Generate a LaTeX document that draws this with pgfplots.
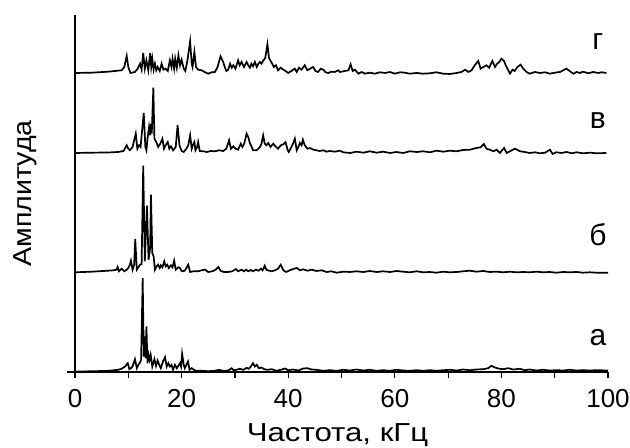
\documentclass[border=0pt]{standalone}
\usepackage{fontspec}
\setmainfont{Liberation Sans}
\usepackage{pgfplots}
\pgfplotsset{compat=1.18}

\newcommand{\lblfont}{\fontsize{13}{15}\selectfont}
\newcommand{\curvefont}{\fontsize{15}{17}\selectfont}

\begin{document}
\begin{tikzpicture}
\path[use as bounding box] (-33.5pt,-38pt) rectangle (281.5pt,186pt);
\begin{axis}[
    at={(0,0)}, anchor=south west,
    scale only axis,
    width=270.5pt, height=178.5pt,
    xmin=-1.5, xmax=100,
    ymin=0, ymax=357,
    axis x line=bottom,
    axis y line=none,
    axis line style={-, line width=0.6pt},
    xtick={0,20,...,100},
    minor xtick={10,30,...,90},
    tick align=outside,
    major tick length=3pt,
    minor tick length=3pt,
    tick style={line width=0.6pt, black},
    ytick=\empty,
    tick label style={font=\lblfont},
    xticklabel style={yshift=-2pt},
    /pgf/number format/assume math mode=true,
    xlabel={\scalebox{1.2}[1]{Частота, кГц}},
    xlabel style={font=\lblfont, at={(axis description cs:0.5,0)}, anchor=center, yshift=-31.5pt},
    clip=false,
]
\draw[line width=0.6pt] (axis cs:0,0) -- (axis cs:0,357);

% г
\addplot[black, line width=0.85pt] coordinates {
(0,299) (3.1,299.3) (6.25,300.3) (7.5,301) (8.75,301.7) (9.25,305) (9.7,316) (10,305)
(10.4,299) (11.25,300) (11.75,303.3) (12.2,308.3) (12.5,302.3) (12.8,319) (13.1,303.3)
(13.4,311.7) (13.75,301.7) (14.1,319) (14.3,305) (14.5,313.3) (14.75,302.3) (15,308.3)
(15.25,301.7) (15.5,305) (15.9,301) (16.25,308.3) (16.6,302.3) (17,303.3) (17.4,301)
(17.8,311.7) (18.1,305) (18.3,313.3) (18.6,303.3) (18.8,313.3) (19.1,304.3) (19.4,316.7)
(19.7,306.7) (20,312.3) (20.4,303.3) (20.7,301) (21.1,311.7) (21.6,330.7) (21.9,308.3)
(22.05,305) (22.4,320) (22.7,305) (23.1,302.3) (23.75,301.7) (24.4,299.7) (25,298.3)
(25.6,299.7) (26.25,300) (26.75,305) (27.3,315.7) (27.8,310) (28.1,305) (28.4,301)
(28.75,302.3) (29.1,308.3) (29.4,304.3) (29.7,306.7) (30.1,303.3) (30.6,311.7) (30.9,306.7)
(31.25,310) (31.7,305) (32.2,310) (32.5,306.7) (32.8,304.3) (33.1,308.3) (33.4,305.7)
(33.75,310) (34.1,305) (34.4,308.3) (34.7,310) (35,308.3) (35.3,311.3) (35.7,314)
(36.1,327.7) (36.4,314) (36.7,311) (37,308.3) (37.3,305) (37.7,306.7) (38.1,301.7)
(38.6,304.3) (39.1,302.3) (39.5,301) (40,299) (40.6,301) (41.25,303.3) (41.6,300)
(42,304.3) (42.5,302.3) (43.1,306.7) (43.6,301.7) (44.1,303.3) (44.7,305) (45.1,301)
(45.6,300) (46.1,303.3) (46.6,302.3) (47,299.7) (47.5,299) (48.1,300.3) (48.75,300)
(49.4,301.7) (49.7,300) (50.65,301) (51.3,301.7) (51.7,307.7) (52.1,301) (52.5,302.3)
(53.2,298.3) (53.8,300) (54.4,298.3) (55.3,299.3) (56.3,298.3) (57.2,299.7) (58.2,299)
(59.1,300) (60,298.3) (61,299.7) (61.9,299.3) (62.8,298.3) (64.1,299) (65.3,298.3)
(66.6,298.7) (67.8,299.7) (69.1,298.3) (70.3,298) (71.6,299) (72.5,300) (73.2,302.3)
(73.8,300) (74.4,301.7) (75.0,306.7) (75.65,311) (76.1,303.3) (76.6,305) (77.2,306.7)
(77.7,304.3) (78.3,311) (78.8,305) (79.2,308.3) (79.6,310) (80.0,313.3) (80.5,311)
(80.8,306.7) (81.3,301.7) (81.6,298.3) (82.1,302.3) (82.5,301) (83,305) (83.6,307.3)
(84.1,303.3) (84.7,300) (85.3,298.3) (86.3,300) (87.2,299) (88.2,299.7) (89.1,298.3)
(90.0,299.3) (91,300) (91.6,301.7) (92.2,303.3) (92.8,301) (93.5,298.3) (94.1,300)
(94.7,299) (95.3,300.3) (96.3,298.7) (97.2,300) (98.2,299) (98.8,299.7) (99.7,299)
};

% в
\addplot[black, line width=0.85pt] coordinates {
(0,219) (3.1,219.3) (6.25,219.5) (8.1,220) (9.1,221) (9.7,226.7) (10,223.3) (10.3,221.7)
(10.8,225) (11.4,238.3) (11.7,223.3) (12,226.7) (12.3,225) (12.9,259) (13.2,225)
(13.4,221.7) (13.6,233.3) (13.9,245) (14.1,236.7) (14.25,248.3) (14.4,238.3) (14.7,284.3)
(14.9,233.3) (15.25,230) (15.6,225) (16,228.3) (16.4,233.3) (16.7,223.3) (17,226.7)
(17.4,230) (17.7,223.3) (18,225.7) (18.4,221.7) (18.9,225) (19.25,246.7) (19.6,226.7)
(20,221) (20.4,220) (20.9,223.3) (21.25,226.7) (21.6,236.7) (21.9,223.3) (22.1,226.7)
(22.4,230) (22.6,221.7) (22.9,225) (23.1,230) (23.4,221) (24.1,220.7) (24.7,220)
(25.5,221) (26.25,220.7) (27,221.7) (27.8,221) (28.4,223.3) (28.9,231.7) (29.25,223.3)
(29.7,225.7) (30.1,223.3) (30.6,222.3) (31.1,228.3) (31.4,225) (31.75,228.3) (32.2,238.3)
(32.5,235) (32.8,229) (33.1,225.7) (33.4,221.7) (34.1,221.7) (34.7,225) (35,228.3)
(35.3,236.7) (35.6,228.3) (35.9,226.7) (36.25,229) (36.7,225) (37.2,228.3) (37.6,225.7)
(38.1,223.3) (38.6,226.7) (39.1,227.7) (39.5,230) (39.9,221.7) (40.1,220) (40.6,225)
(40.9,228.3) (41.25,233.3) (41.6,221.7) (41.9,225) (42.2,229) (42.5,226.7) (42.75,232.3)
(43.1,226.7) (43.6,223.3) (44.1,224) (44.7,222.3) (45.3,221.7) (45.9,221) (46.6,221.7)
(47.2,220.3) (47.8,221) (48.75,220.3) (49.7,221.3) (50.3,219.7) (51.6,219) (52.8,220.3)
(54.1,219.3) (55.3,220.7) (56.6,219.3) (57.8,220.3) (59.1,219) (60.3,220) (61.6,219)
(62.8,220.7) (64.1,220) (65.3,220.7) (66.6,219.7) (67.8,221.3) (69.1,220.3) (70.3,221.3)
(71.6,220.7) (72.8,222) (74.1,222.3) (75.3,224) (76.1,224.7) (76.7,228) (77.2,223.3)
(77.8,222.3) (78.5,220.7) (79.1,222.3) (79.7,219) (80.5,224) (81,219) (81.6,220.7)
(82.5,223.3) (83.5,220.7) (84.4,220) (85.3,219) (86.3,219.7) (87.2,218.7) (88.2,219.3)
(89.1,222.3) (89.6,218) (90.3,219.7) (91.3,219) (92.2,220) (93.2,218.7) (94.1,219.7)
(95.3,218.7) (96.6,219.3) (97.8,218.7) (99.7,219)
};

% б
\addplot[black, line width=0.85pt] coordinates {
(0,99.7) (3.1,100.3) (6.25,101.3) (7.2,101.7) (7.8,102.3) (8,105) (8.25,100.7) (8.75,103.3)
(9.25,100.7) (9.7,102.3) (10,104) (10.3,107.3) (10.5,111.3) (10.8,102.3) (11.1,107.3)
(11.3,133) (11.6,102.3) (11.9,104.7) (12.2,107.3) (12.5,108) (12.8,206.3) (13.1,110.7)
(13.5,166.3) (13.8,112.3) (14.1,124) (14.25,177.3) (14.5,119) (14.75,115.7) (15,102.3)
(15.3,105.7) (15.6,107.3) (15.9,104) (16.1,106.7) (16.4,104.7) (16.75,110.7) (17,105.7)
(17.3,107.3) (17.6,104) (18,106.7) (18.3,104.7) (18.6,111.3) (18.9,102.3) (19.4,104.7)
(19.7,104) (20,100.7) (20.6,101.3) (21.25,107.3) (21.6,100) (22.2,100.7) (23.1,100.7)
(23.75,101.7) (24.4,102.3) (25,100) (25.75,100.7) (26.4,102.3) (26.9,105) (27.3,101.3)
(27.9,100) (28.75,100) (29.5,100.7) (30.2,103) (30.6,100.7) (31.25,102.3) (31.7,100.7)
(32.1,102.3) (32.5,100.7) (33,102) (33.4,100.7) (33.9,102.3) (34.4,101.3) (34.9,103.3)
(35.2,101.7) (35.6,106.3) (35.9,102.3) (36.4,101.3) (36.9,100.7) (37.5,101.7) (38.1,103.3)
(38.6,107.3) (39.1,101.7) (39.6,100) (40.3,101.7) (41.1,103.3) (41.6,104) (42.2,101.7)
(42.8,102.7) (43.6,101.3) (44.4,102.3) (45.3,101) (46.3,101.7) (47.2,100) (48.1,100.7)
(49.1,99.3) (50.3,100.3) (51.6,100) (52.8,100.7) (54.1,100) (55.3,101) (56.6,100)
(57.8,100.7) (59.1,100) (60.3,101) (61.6,100.3) (62.8,99.7) (64.1,100.7) (65.3,99.7)
(66.6,100) (67.8,99.3) (69.1,100.3) (70.3,99.7) (71.6,100) (72.8,100.7) (74.1,101.3)
(75.3,100.3) (76.6,101) (77.8,100) (79.1,100.3) (80.3,99.7) (81.6,100.3) (82.8,99.7)
(84.1,100) (85.3,99.7) (86.6,100.3) (87.8,99.7) (89.1,100) (90.3,99.3) (91.6,100)
(92.8,99.7) (94.1,100) (95.3,99.3) (96.6,99.7) (97.8,99.3) (100,99.3)
};

% а
\addplot[black, line width=0.85pt] coordinates {
(0,0.5) (3.1,0.7) (6.25,1.2) (8.1,2.2) (8.75,3.2) (9.4,5.5) (9.9,8.8) (10.2,2.8) (10.5,3.8)
(10.8,5.5) (11.25,12.8) (11.6,3.8) (11.9,7.2) (12.2,9.5) (12.4,12.2) (12.7,93.8) (12.9,15.5)
(13.1,35.5) (13.25,13.8) (13.4,45.5) (13.6,8.8) (13.8,17.2) (14,12.2) (14.2,17.2) (14.5,5.5)
(14.9,12.8) (15.2,6.2) (15.5,11.5) (15.8,7.2) (16.1,3.8) (16.5,10.5) (16.9,14.8) (17.2,5.5)
(17.5,8.8) (17.8,5.5) (18.1,7.2) (18.4,2.2) (18.75,7.2) (19.1,3.8) (19.4,6.2) (19.7,8.8)
(19.9,5.5) (20.1,18.2) (20.4,7.2) (20.6,3.8) (20.9,7.2) (21.2,10.5) (21.5,2.2) (21.9,3.8)
(22.3,2.2) (22.8,1.2) (23.75,1.2) (25,0.8) (26.25,1.2) (27,2.2) (27.8,1.2) (28.75,1.5)
(29.4,3.8) (29.75,1.8) (30.3,2.2) (30.9,3.2) (31.6,2.2) (32.2,4.2) (32.6,3.2) (33,5.5)
(33.4,8.8) (33.75,5.5) (34.1,7.2) (34.5,3.8) (35,4.5) (35.5,2.8) (36.1,2.2) (36.9,2.8)
(37.8,1.2) (38.8,2.5) (39.4,3.5) (40.0,1.8) (40.95,2.5) (41.9,1.5) (42.8,3.5) (43.6,3.8)
(44.4,2.5) (45.3,2.2) (46.6,1.2) (47.8,1.8) (49.1,1.2) (50.3,2.2) (51.6,1.5) (52.8,2.5)
(54.1,1.5) (55.3,2.2) (56.6,1.2) (57.8,1.8) (59.1,1.2) (60.3,2.2) (61.6,1.5) (62.8,1.2)
(64.1,1.8) (65.3,1.2) (66.6,1.8) (67.8,1.2) (69.1,1.8) (70.3,2.2) (71.6,1.5) (72.8,2.5)
(74.1,1.8) (75.3,2.5) (76.6,2.8) (77.5,3.8) (78.1,6.2) (78.8,4.5) (79.4,3.5) (80.3,2.8)
(81.3,3.8) (82.2,2.5) (83.45,3.2) (84.4,1.8) (85.3,2.5) (86.6,1.5) (87.8,2.2) (89.1,1.5)
(90.3,1.8) (91.6,1.5) (92.8,2.2) (94.1,1.5) (95.3,1.8) (96.6,1.5) (97.8,1.8) (100,1.5)
};

\node[font=\curvefont] at (axis cs:98.1,330) {г};
\node[font=\curvefont] at (axis cs:98.1,251) {в};
\node[font=\curvefont] at (axis cs:98.1,137) {б};
\node[font=\curvefont] at (axis cs:98.1,34) {а};
\node[font=\lblfont, rotate=90, anchor=center] at ([xshift=-21pt]axis description cs:0,0.5) {\scalebox{1.1}[1]{Амплитуда}};
\end{axis}
\end{tikzpicture}
\end{document}
